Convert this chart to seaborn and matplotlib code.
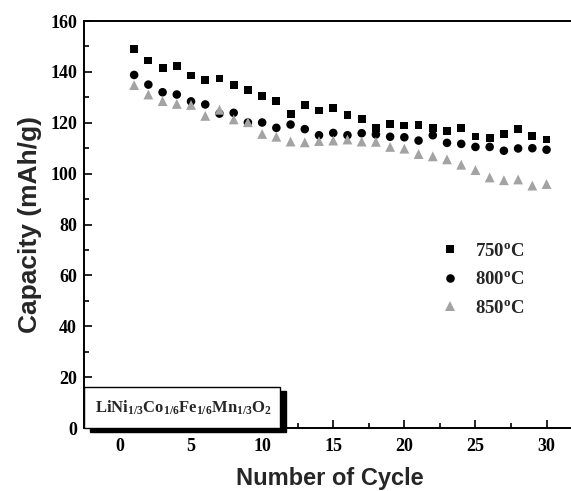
import numpy as np
import pandas as pd
import matplotlib
matplotlib.use("Agg")
import matplotlib.pyplot as plt
import seaborn as sns
from matplotlib.patches import Rectangle
from matplotlib.ticker import MultipleLocator

# Capacity vs cycle
cycles = list(range(1, 31))
cap_750 = [148.9, 144.5, 141.5, 142.4, 138.6, 136.7, 137.4, 135.0, 132.8, 130.5,
           128.5, 123.3, 127.0, 124.8, 125.9, 123.0, 121.4, 118.0, 119.6, 118.9,
           119.1, 117.8, 116.6, 117.8, 114.6, 114.1, 115.5, 117.4, 114.7, 113.4]
cap_800 = [138.8, 135.0, 132.0, 131.1, 128.4, 127.2, 123.6, 123.9, 120.1, 120.1,
           118.0, 119.3, 117.5, 115.1, 116.0, 115.1, 115.9, 115.4, 114.5, 114.3,
           113.0, 115.1, 112.1, 111.7, 110.5, 110.5, 109.0, 109.9, 110.0, 109.4]
cap_850 = [134.8, 131.1, 128.5, 127.4, 127.0, 122.7, 125.1, 121.3, 120.2, 115.6,
           114.5, 112.6, 112.3, 112.8, 113.0, 113.4, 112.6, 112.5, 110.5, 109.8,
           107.7, 106.8, 105.6, 103.5, 101.4, 98.5, 97.4, 97.7, 95.3, 95.9]
labels = [r"750$^{\rm o}$C", r"800$^{\rm o}$C", r"850$^{\rm o}$C"]

df = pd.DataFrame({
    "cycle": cycles * 3,
    "capacity": cap_750 + cap_800 + cap_850,
    "temp": [labels[0]] * 30 + [labels[1]] * 30 + [labels[2]] * 30,
})

sns.set_style("ticks")
plt.rcParams["mathtext.fontset"] = "custom"
plt.rcParams["mathtext.rm"] = "Liberation Serif:bold"
plt.rcParams["mathtext.bf"] = "Liberation Serif:bold"
plt.rcParams["mathtext.it"] = "Liberation Serif:bold"

fig = plt.figure(figsize=(5.71, 4.91), dpi=100)
ax = fig.add_axes([0.147, 0.1283, 0.86, 0.8289])

sns.scatterplot(data=df, x="cycle", y="capacity", hue="temp", style="temp",
                size="temp", sizes={labels[0]: 32, labels[1]: 38, labels[2]: 50},
                palette=["black", "black", "#a3a3a3"],
                markers=["s", "o", "^"], linewidth=0, ax=ax)

ax.set_xlim(-2.53, 32)
ax.set_ylim(0, 160)
ax.xaxis.set_major_locator(MultipleLocator(5))
ax.xaxis.set_minor_locator(MultipleLocator(2.5))
ax.yaxis.set_major_locator(MultipleLocator(20))
ax.yaxis.set_minor_locator(MultipleLocator(10))
ax.tick_params(which="both", direction="in", top=False, right=False,
               width=1.2, colors="black")
ax.tick_params(which="major", length=6)
ax.tick_params(which="minor", length=3.5)
ax.tick_params(axis="y", pad=5)
ax.tick_params(axis="x", pad=7)
for lab in ax.get_xticklabels() + ax.get_yticklabels():
    lab.set_fontfamily("Liberation Serif")
    lab.set_fontweight("bold")
    lab.set_fontsize(13)
for side in ["left", "bottom", "top"]:
    ax.spines[side].set_linewidth(1.4)
    ax.spines[side].set_color("black")
ax.spines["right"].set_visible(False)

ax.set_xlabel("Number of Cycle", fontfamily="Liberation Sans",
              fontweight="bold", fontsize=17, labelpad=9)
ax.set_ylabel("Capacity (mAh/g)", fontfamily="Liberation Sans",
              fontweight="bold", fontsize=19, labelpad=6)

leg = ax.legend(loc="center left", bbox_to_anchor=(0.672, 0.364), frameon=False,
                prop={"family": "Liberation Serif", "weight": "bold", "size": 13.5},
                handletextpad=0.35, labelspacing=0.6)

# formula box with drop shadow
ax.add_patch(Rectangle((0.012, -0.011), 0.399, 0.101, transform=ax.transAxes,
                       facecolor="black", edgecolor="black", clip_on=False, zorder=5))
ax.add_patch(Rectangle((0.0, 0.0), 0.399, 0.101, transform=ax.transAxes,
                       facecolor="white", edgecolor="black", linewidth=1.0,
                       clip_on=False, zorder=6))
ax.text(0.022, 0.05,
        r"LiNi$_{\rm 1/3}$Co$_{\rm 1/6}$Fe$_{\rm 1/6}$Mn$_{\rm 1/3}$O$_{\rm 2}$",
        transform=ax.transAxes, ha="left", va="center", fontsize=12,
        fontfamily="Liberation Serif", fontweight="bold", zorder=7)

fig.savefig("out.png", dpi=100)
